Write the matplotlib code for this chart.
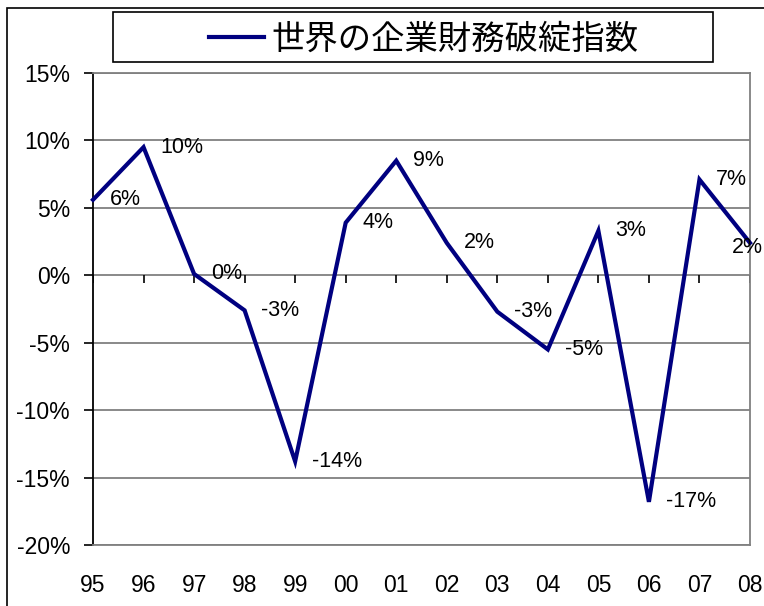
import matplotlib
matplotlib.use('Agg')
import matplotlib.pyplot as plt
from matplotlib.patches import Rectangle

plt.rcParams['font.family'] = ['Liberation Sans', 'Noto Sans CJK JP']

years = ['95', '96', '97', '98', '99', '00', '01', '02', '03', '04', '05', '06', '07', '08']
values = [5.6, 9.5, 0.1, -2.6, -13.8, 3.9, 8.5, 2.4, -2.7, -5.5, 3.3, -16.8, 7.1, 2.4]
labels = ['6%', '10%', '0%', '-3%', '-14%', '4%', '9%', '2%', '-3%', '-5%', '3%', '-17%', '7%', '2%']
yticks = [15, 10, 5, 0, -5, -10, -15, -20]
title = '世界の企業財務破綻指数'

W, H = 764, 606
fig = plt.figure(figsize=(W / 100, H / 100), dpi=100)
ax = fig.add_axes([93 / W, 1 - 545 / H, (750 - 93) / W, (545 - 73) / H])

x = list(range(len(years)))
line, = ax.plot(x, values, color='#000080', lw=3, solid_joinstyle='miter', zorder=3, clip_on=False)

ax.set_xlim(0, len(years) - 1)
ax.set_ylim(-20, 15)

# grid lines
for v in yticks:
    ax.axhline(v, color='#808080', lw=1.3, zorder=1)
# x-axis ticks hang down from the 0 line
ax.vlines(x, -0.55, 0, color='black', lw=1.2, zorder=2)

ax.set_yticks(yticks)
ax.set_yticklabels([f'{v}%' for v in yticks], fontsize=16.5)
ax.tick_params(axis='y', length=6.5, width=1.2, pad=10, color='black')
ax.set_xticks(x)
ax.set_xticklabels(years, fontsize=16.5)
ax.tick_params(axis='x', length=0, pad=21)

for s in ['top', 'right', 'bottom']:
    ax.spines[s].set_color('#808080')
    ax.spines[s].set_linewidth(1.3)
ax.spines['left'].set_color('black')
ax.spines['left'].set_linewidth(1.3)

for i, (v, lab) in enumerate(zip(values, labels)):
    if i == len(values) - 1:
        ax.annotate(lab, (i, v), xytext=(9.5, -3), textcoords='offset points',
                    ha='right', va='center', fontsize=15.5, zorder=4, annotation_clip=False)
    else:
        ax.annotate(lab, (i, v), xytext=(12, 0), textcoords='offset points',
                    ha='left', va='center', fontsize=15.5, zorder=4)

# outer chart border
fig.patches.append(Rectangle((7 / W, -0.1), 1.2, 1.1 - 8 / H, transform=fig.transFigure,
                             fill=False, edgecolor='black', lw=1.2))
# legend box
fig.patches.append(Rectangle((113 / W, 1 - 62 / H), 600 / W, 50 / H, transform=fig.transFigure,
                             fill=False, edgecolor='black', lw=1.2))
fig.legend([line], [title], loc='center', bbox_to_anchor=(424 / W, 1 - 40 / H),
           frameon=False, fontsize=24, handlelength=1.65, handletextpad=0.22,
           borderpad=0, borderaxespad=0)

fig.savefig('out.png', dpi=100)
